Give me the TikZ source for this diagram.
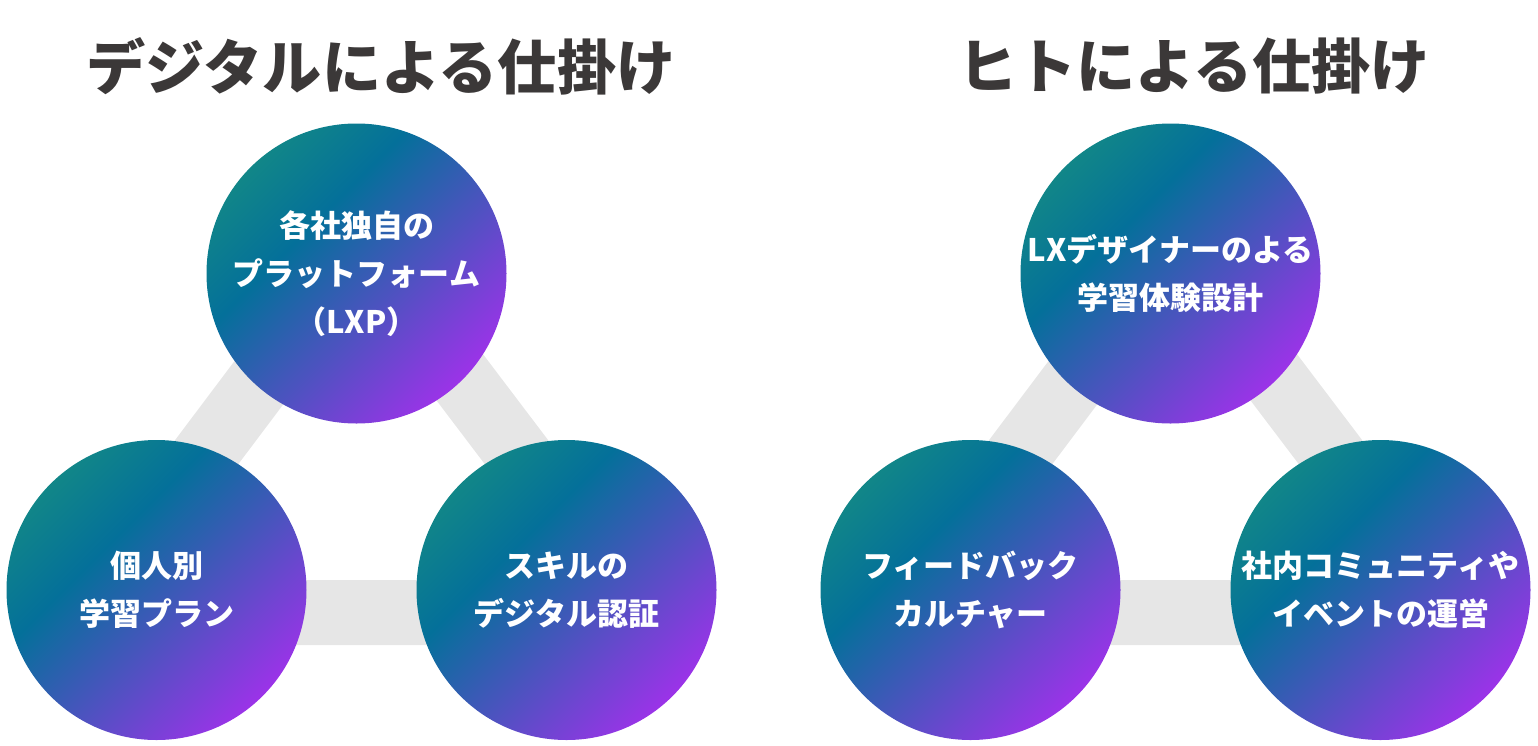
\documentclass[tikz,border=0pt]{standalone}
\usepackage{fontspec}
\newfontfamily\jp{Noto Sans CJK JP}
\definecolor{gA}{HTML}{118688}
\definecolor{gB}{HTML}{04709A}
\definecolor{gC}{HTML}{9B33E8}
\definecolor{bandc}{HTML}{E6E6E6}
\definecolor{ttl}{HTML}{3B3838}
\pgfdeclarehorizontalshading{cg}{100bp}{color(0bp)=(gA); color(25bp)=(gA); color(39bp)=(gB); color(75bp)=(gC); color(100bp)=(gC)}
\begin{document}
\begin{tikzpicture}[x=0.5pt,y=-0.5pt,
  ball/.style={circle, minimum size=150pt, inner sep=0pt, shading=cg, shading angle=-45,
    text=white, align=center, font=\jp\bfseries\fontsize{15.5pt}{24pt}\selectfont},
  bandline/.style={draw=bandc, line width=32.5pt, line join=round},
  ttlnode/.style={text=ttl, inner sep=0pt, font=\jp\bfseries\fontsize{29.6pt}{34pt}\selectfont}]
\useasboundingbox (0,0) rectangle (1538,745);
% titles
\node[ttlnode] (t1) at (381,66) {デジタルによる仕掛け};
\node[ttlnode] (t2) at (1194,66) {ヒトによる仕掛け};
% left group
\coordinate (L1) at (86,612.5);
\coordinate (L2) at (638,612.5);
\coordinate (L3) at (361,247);
\draw[bandline] (L1) -- (L2) -- (L3) -- cycle;
\node[ball] (lt) at (356.5,273.5) {各社独自の\\プラットフォーム\\（LXP）};
\node[ball] (lbl) at (156.5,590) {個人別\\学習プラン};
\node[ball] (lbr) at (566.5,590) {スキルの\\デジタル認証};
% right group
\coordinate (R1) at (900,612.5);
\coordinate (R2) at (1452,612.5);
\coordinate (R3) at (1175,247);
\draw[bandline] (R1) -- (R2) -- (R3) -- cycle;
\node[ball] (rt) at (1170.5,273.5) {LXデザイナーのよる\\学習体験設計};
\node[ball] (rbl) at (970.5,590) {フィードバック\\カルチャー};
\node[ball] (rbr) at (1380.5,590) {社内コミュニティや\\イベントの運営};
\end{tikzpicture}
\end{document}
